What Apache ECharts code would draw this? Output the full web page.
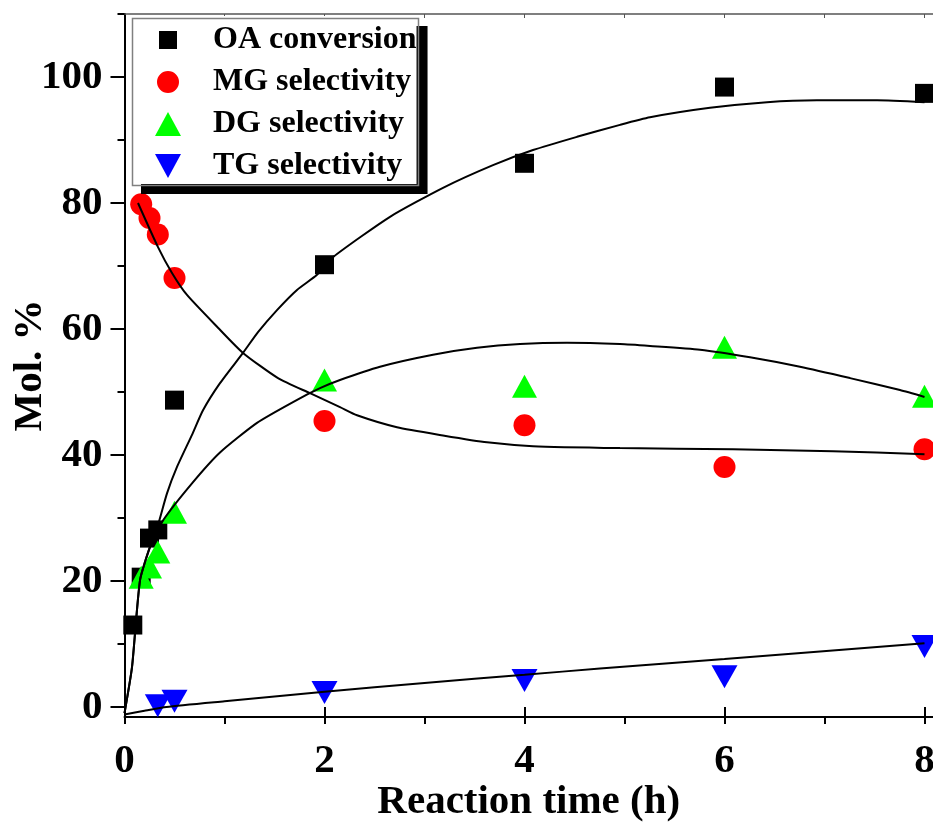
<!DOCTYPE html>
<html>
<head>
<meta charset="utf-8">
<script src="https://cdn.jsdelivr.net/npm/echarts@6/dist/echarts.min.js"></script>
<style>
html,body{margin:0;padding:0;background:#fff;}
#chart{width:933px;height:825px;}
</style>
</head>
<body>
<div id="chart"></div>
<script>
// ---- data ----
var seriesNames = ['OA conversion', 'MG selectivity', 'DG selectivity', 'TG selectivity'];

var oaTime = [0.083, 0.167, 0.25, 0.333, 0.5, 2, 4, 6, 8];
var oaVal  = [13.0, 20.6, 26.8, 28.1, 48.7, 70.2, 86.3, 98.4, 97.4];

var mgTime = [0.167, 0.25, 0.333, 0.5, 2, 4, 6, 8];
var mgVal  = [79.8, 77.6, 75.0, 68.1, 45.4, 44.7, 38.1, 40.9];

var dgTime = [0.167, 0.25, 0.333, 0.5, 2, 4, 6, 8];
var dgVal  = [20.6, 22.2, 24.6, 30.9, 51.9, 50.9, 57.1, 49.3];

var tgTime = [0.333, 0.5, 2, 4, 6, 8];
var tgVal  = [0.2, 0.9, 2.3, 4.2, 4.8, 9.6];

// fitted curves
var oaFitX = [0, 0.075, 0.155, 0.255, 0.335, 0.425, 0.525, 0.675, 0.785, 0.955, 1.185, 1.335, 1.525, 1.725, 1.925, 2.085, 2.655, 3.185, 3.685, 4.085, 4.525, 4.955, 5.255, 5.855, 6.425, 6.925, 7.525, 8.0];
var oaFitY = [-1.0, 6.3, 20.1, 25.4, 28.9, 33.9, 38.1, 43.2, 47.1, 51.4, 56.2, 59.5, 63.0, 66.2, 68.6, 71.4, 77.8, 82.4, 86.0, 88.4, 90.5, 92.4, 93.6, 95.1, 96.0, 96.3, 96.3, 96.0];

var mgFitX = [0.135, 0.335, 0.475, 0.625, 0.935, 1.185, 1.535, 1.855, 2.155, 2.325, 2.725, 3.185, 3.625, 4.085, 4.955, 6.085, 7.085, 8.0];
var mgFitY = [80.0, 73.0, 68.9, 65.4, 60.2, 56.2, 52.2, 49.8, 47.6, 46.3, 44.4, 43.1, 42.0, 41.4, 41.1, 40.9, 40.6, 40.1];

var dgFitX = [0, 0.075, 0.155, 0.255, 0.385, 0.675, 0.955, 1.325, 1.685, 1.955, 2.155, 2.555, 3.085, 3.525, 3.955, 4.425, 4.955, 5.255, 5.755, 6.255, 6.755, 7.255, 7.755, 8.0];
var dgFitY = [-1.0, 6.3, 20.1, 25.4, 29.6, 35.5, 40.4, 45.1, 48.4, 50.6, 51.9, 54.0, 55.9, 57.0, 57.6, 57.8, 57.6, 57.3, 56.7, 55.5, 54.0, 52.2, 50.3, 49.2];

var tgFitX = [0, 0.2, 0.42, 1.0, 2.0, 3.0, 4.0, 4.755, 6.0, 8.0];
var tgFitY = [-1.2, -0.6, 0.0, 0.9, 2.4, 3.8, 5.1, 6.1, 7.6, 10.1];

// axis ticks / labels
var xMajor = [0, 2, 4, 6, 8];
var xMinor = [0, 1, 2, 3, 4, 5, 6, 7, 8];
var xTop   = [1, 2, 3, 4, 5, 6, 7, 8];
var yMajor = [0, 20, 40, 60, 80, 100];
var yMinor = [0, 10, 20, 30, 40, 50, 60, 70, 80, 90, 100, 110];

function pairs(xs, ys) { return xs.map(function (x, i) { return [x, ys[i]]; }); }

var FONT = 'Liberation Serif';
var X_MIN = 0, X_MAX = 8.085, Y_MIN = -1.6, Y_MAX = 110;

// legend icons (degenerate corner subpaths fix the icon box so sizes stay true)
var PAD_A = 'M0,0L0.01,0L0,0.01Z ';
var PAD_B = ' M26,24L25.99,24L26,23.99Z';
var legendIcons = [
  'path://' + PAD_A + 'M4,3h18v18h-18Z' + PAD_B,
  'path://' + PAD_A + 'M2,12a11,11 0 1,0 22,0a11,11 0 1,0 -22,0Z' + PAD_B,
  'path://M13,0L26,24L0,24Z',
  'path://M0,0L26,0L13,24Z'
];

var chart = echarts.init(document.getElementById('chart'), null, {renderer: 'canvas'});

function scatter(name, data, color, symbol, size, rotate) {
  return {
    name: name, type: 'scatter', data: data, symbol: symbol, symbolSize: size,
    symbolRotate: rotate || 0,
    itemStyle: {color: color, opacity: 1}, z: 2, clip: false,
    emphasis: {disabled: true}
  };
}
function fit(data) {
  return {
    type: 'line', data: data, showSymbol: false, smooth: 0.2, z: 3,
    lineStyle: {color: '#000', width: 2}, silent: true
  };
}

var option = {
  backgroundColor: '#fff',
  animation: false,
  grid: {left: 124.5, right: 0, top: 14, bottom: 108, containLabel: false, outerBoundsMode: 'none'},
  legend: {
    data: seriesNames.map(function (n, i) { return {name: n, icon: legendIcons[i]}; }),
    orient: 'vertical',
    left: 130, top: 16,
    padding: [8, 0, 2, 25],
    itemWidth: 26, itemHeight: 24, itemGap: 10,
    backgroundColor: '#fff',
    borderWidth: 0,
    shadowColor: '#000', shadowBlur: 0, shadowOffsetX: 11, shadowOffsetY: 10,
    textStyle: {fontFamily: FONT, fontWeight: 'bold', fontSize: 32, color: '#000', padding: [0, 0, 0, 27]},
    selectedMode: false
  },
  graphic: [{
    type: 'rect', left: 130, top: 16, z: 100,
    shape: {width: 286, height: 167},
    style: {fill: null, stroke: '#808080', lineWidth: 1.5},
    silent: true
  }],
  xAxis: [
    {
      type: 'value', min: X_MIN, max: X_MAX, position: 'bottom',
      name: 'Reaction time (h)', nameLocation: 'middle', nameGap: 65, nameMoveOverlap: false,
      nameTextStyle: {fontFamily: FONT, fontWeight: 'bold', fontSize: 41, color: '#000'},
      axisLine: {show: true, onZero: false, lineStyle: {color: '#000', width: 2}},
      axisTick: {show: true, customValues: xMinor, length: 7, inside: false, lineStyle: {color: '#000', width: 2}},
      axisLabel: {customValues: xMajor, margin: 24, fontFamily: FONT, fontWeight: 'bold', fontSize: 41, color: '#000'},
      splitLine: {show: false}
    },
    {
      type: 'value', min: X_MIN, max: X_MAX, position: 'bottom',
      axisLine: {show: false},
      axisTick: {show: true, customValues: xMajor, length: 14, inside: false, lineStyle: {color: '#000', width: 2}},
      axisLabel: {show: false}, splitLine: {show: false}
    },
    {
      type: 'value', min: X_MIN, max: X_MAX, position: 'top',
      axisLine: {show: true, onZero: false, lineStyle: {color: '#555', width: 1.5}},
      axisTick: {show: true, customValues: xTop, length: 4, inside: true, lineStyle: {color: '#555', width: 1}},
      axisLabel: {show: false}, splitLine: {show: false}
    }
  ],
  yAxis: [
    {
      type: 'value', min: Y_MIN, max: Y_MAX, position: 'left',
      name: 'Mol. %', nameLocation: 'middle', nameGap: 74, nameRotate: 90, nameMoveOverlap: false,
      nameTextStyle: {fontFamily: FONT, fontWeight: 'bold', fontSize: 41, color: '#000'},
      axisLine: {show: true, onZero: false, lineStyle: {color: '#000', width: 2}},
      axisTick: {show: true, customValues: yMinor, length: 7, inside: false, lineStyle: {color: '#000', width: 2}},
      axisLabel: {customValues: yMajor, margin: 22, fontFamily: FONT, fontWeight: 'bold', fontSize: 41, color: '#000'},
      splitLine: {show: false}
    },
    {
      type: 'value', min: Y_MIN, max: Y_MAX, position: 'left',
      axisLine: {show: false},
      axisTick: {show: true, customValues: yMajor, length: 14, inside: false, lineStyle: {color: '#000', width: 2}},
      axisLabel: {show: false}, splitLine: {show: false}
    }
  ],
  series: [
    scatter(seriesNames[0], pairs(oaTime, oaVal), '#000000', 'rect', 19),
    scatter(seriesNames[1], pairs(mgTime, mgVal), '#ff0000', 'circle', 22),
    scatter(seriesNames[2], pairs(dgTime, dgVal), '#00ff00', 'triangle', [25, 23]),
    scatter(seriesNames[3], pairs(tgTime, tgVal), '#0000ff', 'triangle', [26, 23], 180),
    fit(pairs(oaFitX, oaFitY)),
    fit(pairs(mgFitX, mgFitY)),
    fit(pairs(dgFitX, dgFitY)),
    fit(pairs(tgFitX, tgFitY))
  ]
};
chart.setOption(option);
</script>
</body>
</html>
